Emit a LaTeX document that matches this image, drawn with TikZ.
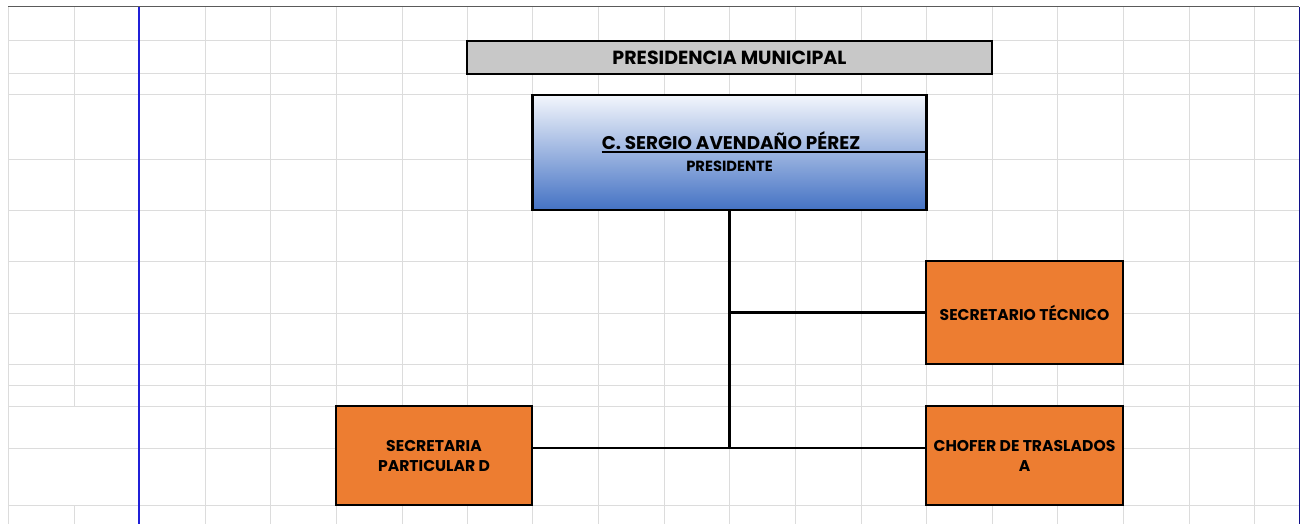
\documentclass[tikz,border=0pt]{standalone}
\usepackage{fontspec}
\setmainfont{Poppins}
\definecolor{gridc}{HTML}{DCDCDC}
\definecolor{graybox}{HTML}{C8C8C8}
\definecolor{orangebox}{HTML}{ED7D31}
\definecolor{bluetop}{HTML}{F3F6FC}
\definecolor{bluebot}{HTML}{4472C4}
\definecolor{bluerule}{HTML}{2020D8}
\definecolor{navy}{HTML}{10108A}
\definecolor{topb}{HTML}{5A5A5A}
\begin{document}
\begin{tikzpicture}[x=1pt,y=-1pt,
  gridline/.style={draw=gridc,line width=1pt},
  boxstyle/.style={draw=black,line width=2.3pt,rectangle,inner sep=0pt,align=center,font=\bfseries\fontsize{15.6}{20}\selectfont},
  orangestyle/.style={boxstyle,fill=orangebox},
  conn/.style={draw=black,line width=2.3pt},
  txt/.style={inner sep=0pt,font=\bfseries}
]
\useasboundingbox (0,0) rectangle (1300,524);
\fill[white] (0,0) rectangle (1300,524);
% grid
\foreach \x in {205,270,336,402,467,532,598,664,729,795,861,926,992,1057,1123,1189,1254}
  \draw[gridline] (\x,7) -- (\x,524);
\draw[gridline] (74,7) -- (74,406);
\draw[gridline] (74,505) -- (74,524);
\draw[gridline] (8,7) -- (8,524);
\foreach \y in {41,74,95,159,210,261,313,364,385,406,448,505}
  \draw[gridline] (8,\y) -- (1299,\y);
\draw[topb,line width=1pt] (8,7) -- (1299,7);
\draw[navy,line width=1pt] (1299,7) -- (1299,524);
\draw[bluerule,line width=2pt] (139,7) -- (139,524);
% boxes
\node[boxstyle,fill=graybox,minimum width=525pt,minimum height=33pt,font=\bfseries\fontsize{19}{22}\selectfont] (muni) at (729.5,57.5) {PRESIDENCIA MUNICIPAL};
\node[boxstyle,top color=bluetop,bottom color=bluebot,minimum width=394pt,minimum height=115pt] (pres) at (729.5,152.5) {};
\node[txt,font=\bfseries\fontsize{18.4}{20}\selectfont,anchor=base] (pname) at (731,149.5) {C. SERGIO AVENDAÑO PÉREZ};
\node[txt,font=\bfseries\fontsize{14.7}{16}\selectfont] (ptitle) at (729.5,166) {PRESIDENTE};
\draw[black,line width=1.5pt] ([yshift=-2.5pt]pname.base west) -- ([yshift=-2.5pt]pname.base west -| pres.east);
\node[orangestyle,minimum width=197pt,minimum height=103pt] (sectec) at (1024.5,312.5) {SECRETARIO TÉCNICO};
\node[orangestyle,minimum width=197pt,minimum height=99pt] (chofer) at (1024.5,455.5) {CHOFER DE TRASLADOS\\A};
\node[orangestyle,minimum width=196pt,minimum height=99pt] (secpart) at (434,455.5) {SECRETARIA\\PARTICULAR D};
% connectors
\coordinate (jb) at (729.5,448);
\draw[conn] (pres.south) -- (pres.south |- jb);
\draw[conn] (pres.south |- sectec.west) -- (sectec.west);
\draw[conn] (jb -| secpart.east) -- (jb -| chofer.west);
\end{tikzpicture}
\end{document}
